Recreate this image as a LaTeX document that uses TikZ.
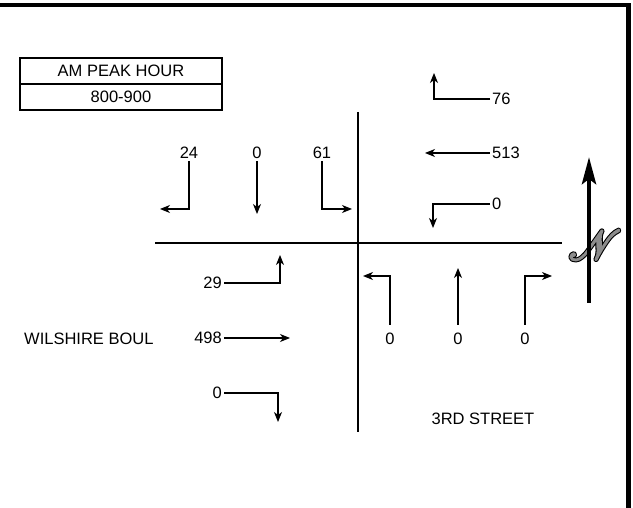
\documentclass[tikz,border=0pt]{standalone}
\usepackage{fontspec}
\setmainfont{Liberation Sans}
\usepackage{mathrsfs}
\usepackage{graphicx}
\usetikzlibrary{arrows.meta, positioning}

% script N: gray body, black outline
\newcommand{\outlinedN}{%
  \rlap{\special{pdf:literal direct 2 Tr 1.7 w 1 J 1 j 0 G 0.55 g}%
    \scalebox{2.4}{$\mathscr{N}$}}%
  \special{pdf:literal direct 2 Tr 0.8 w 1 J 1 j 0.55 G 0.55 g}%
  \scalebox{2.4}{$\mathscr{N}$}%
  \special{pdf:literal direct 0 Tr 0 G 0 g}}

\begin{document}
\begin{tikzpicture}[
  x=1pt, y=-1pt,
  font=\fontsize{16.5}{19}\selectfont,
  count/.style={inner sep=2pt},
  cell/.style={draw, line width=1.8pt, minimum width=202pt, minimum height=26pt,
               inner sep=0pt, outer sep=0pt},
  road/.style={line width=2pt},
  move/.style={-{Stealth[length=10pt,width=8pt,inset=3pt]}, line width=1.1pt},
  frame/.style={line width=4.5pt},
]
  \useasboundingbox (0,0) rectangle (633,508);

  % frame (top and right only)
  \draw[frame] (0,5) -- (628.5,5) -- (628.5,508);

  % title box
  \node[cell] (peak) at (121,71) {AM PEAK HOUR};
  \node[cell, below=0pt of peak] (hours) {800-900};

  % roads
  \coordinate (rdN) at (358,112);
  \coordinate (rdS) at (358,432);
  \coordinate (rdW) at (155,243);
  \coordinate (rdE) at (562,243);
  \draw[road] (rdN) -- (rdS);
  \draw[road] (rdW) -- (rdE);

  % southbound (north leg)
  \node[count] (sbL) at (189,153) {24};
  \node[count] (sbT) at (257,153) {0};
  \node[count] (sbR) at (322,153) {61};
  \coordinate (sbLend) at (160,209);
  \coordinate (sbTend) at (257,214);
  \coordinate (sbRend) at (352,209);
  \draw[move] (sbL.south) |- (sbLend);
  \draw[move] (sbT.south) -- (sbTend);
  \draw[move] (sbR.south) |- (sbRend);

  % westbound (east leg)
  \node[count, anchor=west] (wbR) at (490,99) {76};
  \node[count, anchor=west] (wbT) at (490,153) {513};
  \node[count, anchor=west] (wbL) at (490,204) {0};
  \coordinate (wbRend) at (434,73);
  \coordinate (wbTend) at (425,153);
  \coordinate (wbLend) at (433,228);
  \draw[move] (wbR.west) -| (wbRend);
  \draw[move] (wbT.west) -- (wbTend);
  \draw[move] (wbL.west) -| (wbLend);

  % northbound (south leg)
  \node[count] (nbL) at (390,339) {0};
  \node[count] (nbT) at (458,339) {0};
  \node[count] (nbR) at (525,339) {0};
  \coordinate (nbLend) at (363,276);
  \coordinate (nbTend) at (458,268);
  \coordinate (nbRend) at (552,276);
  \draw[move] ([yshift=6pt]nbL.north) |- (nbLend);
  \draw[move] ([yshift=6pt]nbT.north) -- (nbTend);
  \draw[move] ([yshift=6pt]nbR.north) |- (nbRend);

  % eastbound (west leg)
  \node[count, anchor=east] (ebL) at (224,283) {29};
  \node[count, anchor=east] (ebT) at (224,338) {498};
  \node[count, anchor=east] (ebR) at (224,393) {0};
  \coordinate (ebLend) at (280,255);
  \coordinate (ebTend) at (290,338);
  \coordinate (ebRend) at (278,422);
  \draw[move] (ebL.east) -| (ebLend);
  \draw[move] (ebT.east) -- (ebTend);
  \draw[move] (ebR.east) -| (ebRend);

  % street names
  \node[anchor=west, inner sep=2pt] (wilshire) at (22,339) {WILSHIRE BOUL};
  \node (third) at (483,419) {3RD STREET};

  % north arrow
  \node (northN) at (595,245) {\outlinedN};
  \coordinate (nTail) at (589,303);
  \coordinate (nTip) at (589,157);
  \draw[-{Stealth[length=27pt,width=14pt,inset=5pt]}, line width=4.5pt] (nTail) -- (nTip);
\end{tikzpicture}
\end{document}
